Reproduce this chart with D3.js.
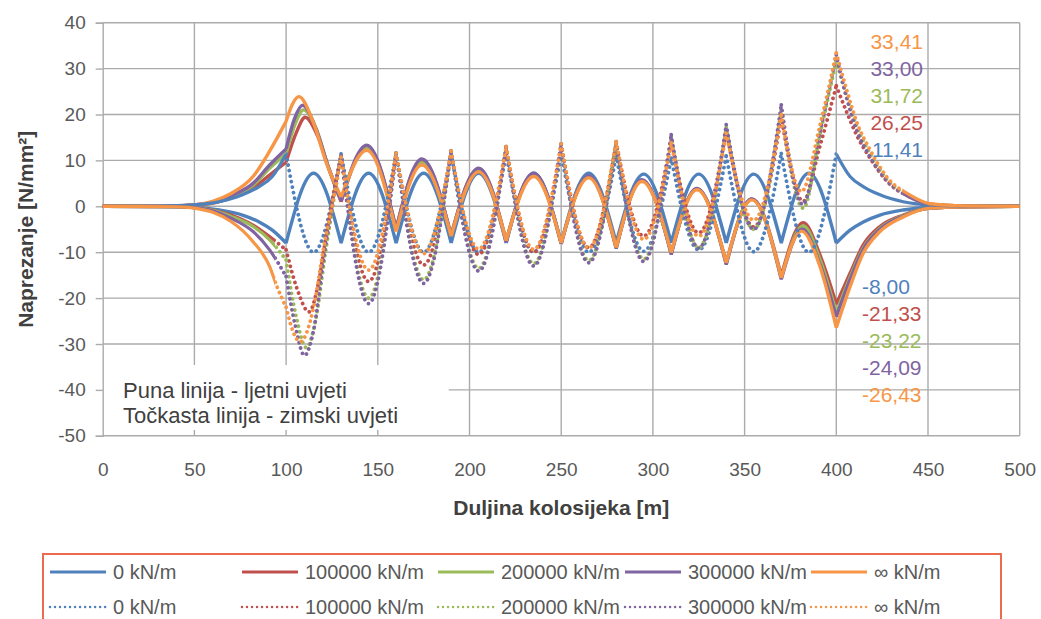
<!DOCTYPE html>
<html>
<head>
<meta charset="utf-8">
<script src="https://cdn.jsdelivr.net/npm/d3@7"></script>
<style>
  body { margin: 0; background: #fff; }
  text { font-family: "Liberation Sans", Arial, sans-serif; }
</style>
</head>
<body>
<svg id="chart" width="1041" height="619"></svg>
<script>
// ---- data ----
var xTicks = [0, 50, 100, 150, 200, 250, 300, 350, 400, 450, 500];
var yTicks = [-50, -40, -30, -20, -10, 0, 10, 20, 30, 40];
var supports = [100, 130, 160, 190, 220, 250, 280, 310, 340, 370, 400];
var legendLabels = ["0 kN/m", "100000 kN/m", "200000 kN/m", "300000 kN/m", "\u221e kN/m"];

// summer (solid)
var s0 = [[0,0],[30,-0.05],[49,-0.2],[63.5,-0.8],[76.2,-1.9],[85.3,-3.4],[92.5,-5.2],[100,-8],
  [115,7.2],[130,-8],[145,7.2],[160,-8],[175,7.2],[190,-8],[205,7.2],[220,-8],[235,7.2],[250,-8],
  [265,7.2],[280,-8],[295,7.0],[310,-8],[325,7.0],[340,-8],[355,7.0],[370,-8],[385,7.2],[400,-8],
  [407.5,-5.2],[414.7,-3.4],[423.8,-1.9],[436.5,-0.8],[451,-0.2],[470,-0.05],[500,0]];
var s100k = [[0,0],[40,0.1],[50,0.3],[60,0.7],[70,1.9],[82,4.0],[91,6.8],[100,9.6],
  [105.5,16],[110.4,19.4],[117,15.5],[123.5,8],[130,1.0],
  [144,13.0],[160,-5.0],[174,10.0],[190,-6.3],[205,8.2],[220,-7.6],[235,7.1],[250,-8.0],
  [265,6.5],[280,-9.0],[294,5.6],[310,-10.2],[324,3.8],[340,-12.3],[354,1.6],[370,-15.2],
  [382,-3.6],[391,-10.5],[400,-21.33],
  [407.5,-14.6],[414.7,-8.4],[423.8,-4.4],[436.5,-1.9],[451,-0.4],[470,-0.1],[500,0]];
var s200k = [[0,0],[40,0.1],[50,0.3],[60,0.8],[70,2.1],[82,4.6],[91,8.3],[100,11.4],
  [105,18],[109.5,21.0],[116.5,16.8],[123,8.6],[130,1.5],
  [144,12.7],[160,-5.2],[174,9.5],[190,-6.5],[205,8.0],[220,-7.6],[235,7.0],[250,-8.1],
  [265,6.5],[280,-9.1],[294,5.6],[310,-10.3],[324,3.8],[340,-12.5],[354,1.5],[370,-15.7],
  [382,-4.3],[391,-11.5],[400,-23.22],
  [407.5,-15.5],[414.7,-9.1],[423.8,-4.8],[436.5,-2.0],[451,-0.4],[470,-0.1],[500,0]];
var s300k = [[0,0],[40,0.1],[50,0.3],[60,0.9],[70,2.3],[82,5.0],[91,9.0],[100,12.5],
  [104.5,19],[109,22.0],[116,17.2],[123,8.6],[130,1.2],
  [144,13.3],[160,-5.0],[174,10.3],[190,-6.5],[205,8.3],[220,-7.8],[235,7.2],[250,-8.2],
  [265,6.6],[280,-9.2],[294,5.8],[310,-10.5],[324,3.9],[340,-12.7],[354,1.6],[370,-15.9],
  [381.5,-5.0],[391,-12.5],[400,-24.09],
  [407.5,-16.0],[414.7,-9.4],[423.8,-5.0],[436.5,-2.1],[451,-0.4],[470,-0.1],[500,0]];
var sInf = [[0,0],[40,0.1],[50,0.3],[60,1.1],[70,2.8],[82,6.5],[91,12.0],[100,18.5],
  [103.5,22.3],[107,23.9],[115,18.1],[122,9.4],[130,2.0],
  [144,12.2],[160,-5.5],[174,9.0],[190,-6.5],[205,7.5],[220,-7.5],[235,6.5],[250,-8.0],
  [265,6.2],[280,-9.0],[294,5.4],[310,-10.1],[324,3.6],[340,-12.3],[354,1.4],[370,-15.6],
  [381,-5.4],[391,-13.0],[400,-26.43],
  [407.5,-17.5],[414.7,-10.2],[423.8,-5.5],[436.5,-2.3],[451,-0.4],[470,-0.1],[500,0]];

// winter (dotted)
var d0 = [[0,0],[30,0.05],[49,0.3],[63.5,1.0],[76.2,2.5],[85.3,4.3],[92.5,6.5],[100,11.4],
  [115,-10],[130,11.4],[145,-10],[160,11.4],[175,-10],[190,11.4],[205,-10],[220,11.4],[235,-10],[250,11.4],
  [265,-10],[280,11.0],[295,-9.8],[310,10.5],[325,-9.5],[340,11.0],[355,-9.9],[370,11.5],[385,-10],[400,11.41],
  [407.5,6.5],[414.7,4.3],[423.8,2.5],[436.5,1.0],[451,0.3],[470,0.05],[500,0]];
var d100k = [[0,0],[40,-0.1],[50,-0.3],[60,-0.8],[70,-1.9],[82,-4.1],[91,-6.6],[100,-9.5],
  [106,-18],[112.5,-23],[117.5,-17],[122,-6],[126,3],[130,11],
  [145,-16.4],[160,11.6],[175,-12.8],[190,12.0],[205,-10.5],[220,12.8],[235,-10],[250,13.4],
  [265,-9],[280,13.8],[295,-6.5],[310,14.5],[325,-5.8],[340,16.5],[355,-4.5],[370,19.5],
  [382,1.1],[391,13],[400,26.25],
  [405.7,20.5],[411.1,15.5],[418.4,10.5],[427.5,5.5],[440,2.0],[451,0.5],[470,0.1],[500,0]];
var d200k = [[0,0],[40,-0.1],[50,-0.3],[60,-0.9],[70,-2.2],[82,-4.4],[91,-7.3],[100,-11.7],
  [105.5,-24],[111,-30.8],[116,-25],[121.5,-10],[126,1.5],[130,11],
  [145,-20],[160,11.6],[175,-16],[190,12.0],[205,-13.5],[220,13.0],[235,-12.5],[250,13.6],
  [265,-11.8],[280,14.0],[295,-11.5],[310,15.2],[325,-9.0],[340,17.2],[355,-5],[370,21],
  [382,-0.4],[391,15.5],[400,31.72],
  [405.7,23.8],[411.1,17.5],[418.4,11.5],[427.5,6.0],[440,2.2],[451,0.5],[470,0.1],[500,0]];
var d300k = [[0,0],[40,-0.1],[50,-0.3],[60,-1.0],[70,-2.6],[82,-5.5],[91,-9.5],[100,-15.3],
  [105,-26],[110,-32.5],[115,-27],[121,-10],[126,2],[130,11],
  [145,-21.2],[160,11.6],[175,-16.8],[190,12.0],[205,-14.1],[220,13.0],[235,-13.0],[250,13.6],
  [265,-12.3],[280,14.1],[295,-12.0],[310,15.6],[325,-9.1],[340,17.8],[355,-5],[370,22.1],
  [381.8,0.4],[391,16],[400,33.0],
  [405.7,23.5],[411.1,16.6],[418.4,10.8],[427.5,5.7],[440,2.0],[451,0.5],[470,0.1],[500,0]];
var dInf = [[0,0],[40,-0.1],[50,-0.4],[60,-1.3],[70,-3.3],[82,-7.7],[91,-13.1],[95,-17.5],[100,-22],
  [104,-27.5],[107.7,-29.5],[115,-22],[120.5,-9],[126,2],[130,10.7],
  [145,-13.9],[160,11.6],[175,-10.3],[190,12.0],[205,-9.3],[220,13.0],[235,-9.4],[250,13.6],
  [265,-9.1],[280,14.1],[295,-7.2],[310,13.8],[325,-6.5],[340,15.9],[355,-3],[370,20.0],
  [381,3.2],[391,17.5],[400,33.41],
  [405.7,25.3],[411.1,18.4],[418.4,12.3],[427.5,6.4],[440,2.5],[451,0.6],[470,0.1],[500,0]];

var maxLabels = ["33,41", "33,00", "31,72", "26,25", "11,41"];
var minLabels = ["-8,00", "-21,33", "-23,22", "-24,09", "-26,43"];

// ---- chart ----
var colors = ["#4f81bd", "#c0504d", "#9bbb59", "#8064a2", "#f79646"];
var solidSeries = [s0, s100k, s200k, s300k, sInf];
var dottedSeries = [d0, d100k, d200k, d300k, dInf];

var svg = d3.select("#chart");
var x = d3.scaleLinear().domain([0, 500]).range([102.7, 1019.7]);
var y = d3.scaleLinear().domain([-50, 40]).range([435.8, 22.7]);

// gridlines
svg.append("g").selectAll("line").data(yTicks).enter().append("line")
    .attr("x1", x(0)).attr("x2", x(500))
    .attr("y1", function (d) { return y(d); }).attr("y2", function (d) { return y(d); })
    .attr("stroke", "#ababab").attr("stroke-width", 1.4);
svg.append("g").selectAll("line").data(xTicks.slice(1)).enter().append("line")
    .attr("x1", function (d) { return x(d); }).attr("x2", function (d) { return x(d); })
    .attr("y1", y(40)).attr("y2", y(-50))
    .attr("stroke", "#ababab").attr("stroke-width", 1.4);

// white box behind the note
svg.append("rect").attr("x", x(0) + 1).attr("y", 365).attr("width", 345).attr("height", 65)
    .attr("fill", "#fff");

// axes
var yAxis = svg.append("g").attr("transform", "translate(" + x(0) + ",0)")
    .call(d3.axisLeft(y).tickValues(yTicks).tickSize(7).tickPadding(10)
        .tickFormat(function (d) { return String(d); }));
yAxis.select(".domain").attr("stroke", "#ababab").attr("stroke-width", 1.4);
yAxis.selectAll(".tick line").attr("stroke", "#ababab").attr("stroke-width", 1.4);
yAxis.selectAll("text").attr("font-size", 19).attr("fill", "#595959")
    .style("font-family", "Liberation Sans, Arial, sans-serif");

var xAxis = svg.append("g").attr("transform", "translate(0," + y(-50) + ")")
    .call(d3.axisBottom(x).tickValues(xTicks).tickSize(0).tickPadding(27)
        .tickFormat(function (d) { return String(d); }));
xAxis.select(".domain").remove();
xAxis.selectAll("text").attr("font-size", 19).attr("fill", "#595959")
    .style("font-family", "Liberation Sans, Arial, sans-serif");

svg.append("text").attr("transform", "translate(27," + ((y(40) + y(-50)) / 2) + ") rotate(-90)")
    .attr("text-anchor", "middle").attr("dominant-baseline", "middle")
    .attr("font-size", 21).attr("font-weight", "bold").attr("fill", "#404040")
    .text("Naprezanje [N/mm\u00b2]");
svg.append("text").attr("x", (x(0) + x(500)) / 2).attr("y", 515)
    .attr("text-anchor", "middle").attr("font-size", 21).attr("font-weight", "bold").attr("fill", "#404040")
    .text("Duljina kolosijeka [m]");

// note
svg.append("text").attr("x", 123).attr("y", 398).attr("font-size", 22).attr("fill", "#404040")
    .text("Puna linija - ljetni uvjeti");
svg.append("text").attr("x", 123).attr("y", 423).attr("font-size", 22).attr("fill", "#404040")
    .text("To\u010dkasta linija - zimski uvjeti");

// clip regions: dotted series look solid where they are flat
var defs = svg.append("defs");
function clipPair(id, a, b) {
    defs.append("clipPath").attr("id", id + "-in").append("rect")
        .attr("x", x(a)).attr("y", 0).attr("width", x(b) - x(a)).attr("height", 619);
    var out = defs.append("clipPath").attr("id", id + "-out");
    out.append("rect").attr("x", 0).attr("y", 0).attr("width", x(a)).attr("height", 619);
    out.append("rect").attr("x", x(b)).attr("y", 0).attr("width", 1041 - x(b)).attr("height", 619);
}
clipPair("cb", 100, 400);
clipPair("cn", 94, 436);

var line = d3.line()
    .x(function (d) { return x(d[0]); })
    .y(function (d) { return y(d[1]); })
    .curve(d3.curveMonotoneX);

// split at the supports so the peaks there stay sharp
function pathOf(pts) {
    var segs = [], cur = [];
    pts.forEach(function (p) {
        cur.push(p);
        if (supports.indexOf(p[0]) >= 0 && cur.length > 1) { segs.push(cur); cur = [p]; }
    });
    if (cur.length > 1) segs.push(cur);
    return segs.map(function (s) { return line(s); }).join("");
}

var plot = svg.append("g");
solidSeries.forEach(function (s, i) {
    plot.append("path").attr("d", pathOf(s)).attr("fill", "none")
        .attr("stroke", colors[i]).attr("stroke-width", 3.4).attr("stroke-linejoin", "round");
});
dottedSeries.forEach(function (s, i) {
    var id = i === 0 ? "cb" : "cn";
    plot.append("path").attr("d", pathOf(s)).attr("fill", "none")
        .attr("clip-path", "url(#" + id + "-out)")
        .attr("stroke", colors[i]).attr("stroke-width", 3.2);
    plot.append("path").attr("d", pathOf(s)).attr("fill", "none")
        .attr("clip-path", "url(#" + id + "-in)")
        .attr("stroke", colors[i]).attr("stroke-width", 3.8)
        .attr("stroke-linecap", "round").attr("stroke-dasharray", "0.01,5.6");
});

// value labels at 400 m
var maxColors = [colors[4], colors[3], colors[2], colors[1], colors[0]];
svg.append("g").selectAll("text").data(maxLabels).enter().append("text")
    .attr("x", 923).attr("y", function (d, i) { return 42 + i * 27; })
    .attr("dy", "0.35em").attr("text-anchor", "end").attr("font-size", 21)
    .attr("fill", function (d, i) { return maxColors[i]; })
    .text(function (d) { return d; });
svg.append("g").selectAll("text").data(minLabels).enter().append("text")
    .attr("x", 862).attr("y", function (d, i) { return 287 + i * 27; })
    .attr("dy", "0.35em").attr("font-size", 21)
    .attr("fill", function (d, i) { return colors[i]; })
    .text(function (d) { return d; });

// legend
svg.append("rect").attr("x", 43).attr("y", 554).attr("width", 958).attr("height", 80)
    .attr("fill", "none").attr("stroke", "#ee6a4c").attr("stroke-width", 2);
var legX = [50, 242, 438, 625, 811];
[572, 607].forEach(function (ly, row) {
    legendLabels.forEach(function (lab, i) {
        var ln = svg.append("line").attr("x1", legX[i]).attr("x2", legX[i] + 56)
            .attr("y1", ly).attr("y2", ly).attr("stroke", colors[i]).attr("stroke-width", 3);
        if (row === 1) ln.attr("stroke-width", 2.5).attr("stroke-linecap", "round").attr("stroke-dasharray", "0.01,5");
        svg.append("text").attr("x", legX[i] + 63).attr("y", ly).attr("dy", "0.35em")
            .attr("font-size", 20).attr("fill", "#595959").text(lab);
    });
});
</script>
</body>
</html>
